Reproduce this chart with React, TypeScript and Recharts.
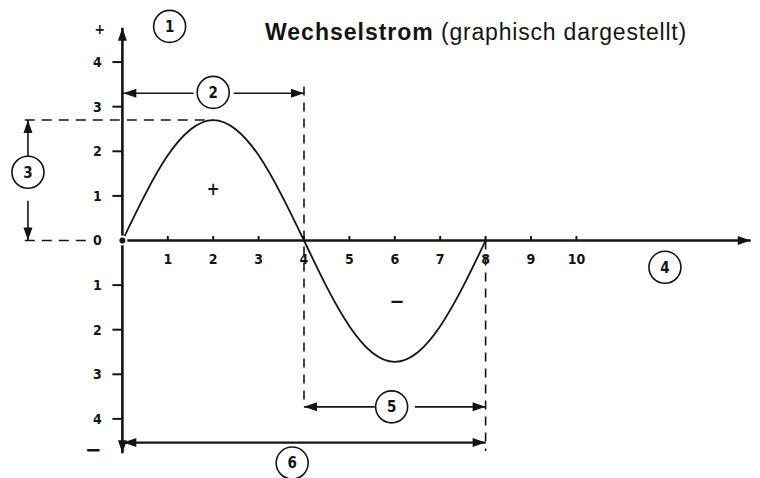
import React from 'react';
import { LineChart, Line, XAxis, YAxis, ReferenceLine, ReferenceDot } from 'recharts';

// Phase (x) and current (y)
const phase = [0, 0.5, 1, 1.5, 2, 2.5, 3, 3.5, 4, 4.5, 5, 5.5, 6, 6.5, 7, 7.5, 8];
const current = [0, 1.03, 1.91, 2.49, 2.7, 2.49, 1.91, 1.03, 0, -1.04, -1.92, -2.51, -2.72, -2.51, -1.92, -1.04, 0];

const xTicks = [1, 2, 3, 4, 5, 6, 7, 8, 9, 10];
const yTicks = [4, 3, 2, 1, -1, -2, -3, -4];

const peak = 2.7;
const halfPeriod = 4;
const period = 8;

// circled numbers: [label, x, y]
const markers: [string, number, number][] = [
  ['1', 1.04, 4.8],
  ['2', 2.0, 3.32],
  ['3', -2.08, 1.53],
  ['4', 11.95, -0.6],
  ['5', 5.93, -3.73],
  ['6', 3.74, -4.99],
];

const data = phase.map((t, i) => ({ t, v: current[i] }));

const ink = '#141414';
const tickFont = { fontFamily: '"DejaVu Sans Condensed", "DejaVu Sans", sans-serif', fontWeight: 700 };

const ArrowLine = (props: any) => {
  const { x1, y1, x2, y2, heads = 'end', width = 2, gap } = props;
  const dx = x2 - x1;
  const dy = y2 - y1;
  const len = Math.sqrt(dx * dx + dy * dy) || 1;
  const ux = dx / len;
  const uy = dy / len;
  const head = (x: number, y: number, dirx: number, diry: number) => {
    const L = 13;
    const W = 4.5;
    const bx = x - dirx * L;
    const by = y - diry * L;
    return (
      <polygon
        points={`${x},${y} ${bx - diry * W},${by + dirx * W} ${bx + diry * W},${by - dirx * W}`}
        fill={ink}
      />
    );
  };
  let lines;
  if (gap) {
    const mx = (x1 + x2) / 2 + (gap.shift || 0) * ux;
    const my = (y1 + y2) / 2 + (gap.shift || 0) * uy;
    lines = (
      <>
        <line x1={x1} y1={y1} x2={mx - ux * gap.size} y2={my - uy * gap.size} stroke={ink} strokeWidth={width} />
        <line x1={mx + ux * gap.size} y1={my + uy * gap.size} x2={x2} y2={y2} stroke={ink} strokeWidth={width} />
      </>
    );
  } else {
    lines = <line x1={x1} y1={y1} x2={x2} y2={y2} stroke={ink} strokeWidth={width} />;
  }
  return (
    <g>
      {lines}
      {(heads === 'end' || heads === 'both') && head(x2, y2, ux, uy)}
      {(heads === 'start' || heads === 'both') && head(x1, y1, -ux, -uy)}
    </g>
  );
};

export default function App() {
  return (
    <div style={{ position: 'absolute', left: 0, top: 0, width: 760, height: 478, background: '#fff' }}>
      <div
        style={{
          position: 'absolute',
          left: 265,
          top: 19,
          fontFamily: '"Liberation Sans", Arial, sans-serif',
          fontSize: 23,
          color: ink,
          whiteSpace: 'nowrap',
          letterSpacing: 0.8,
        }}
      >
        <span style={{ fontWeight: 700, letterSpacing: 1 }}>Wechselstrom</span> (graphisch dargestellt)
      </div>
      <LineChart width={760} height={478} data={data} margin={{ top: 0, right: 0, bottom: 0, left: 0 }}>
        <XAxis type="number" dataKey="t" domain={[-2.696, 14.044]} hide allowDataOverflow />
        <YAxis type="number" domain={[-5.325, 5.392]} hide allowDataOverflow />

        {/* dashed guides */}
        <ReferenceLine segment={[{ x: -2.15, y: peak }, { x: 2, y: peak }]} stroke={ink} strokeWidth={1.6} strokeDasharray="10 7" />
        <ReferenceLine segment={[{ x: -2.15, y: 0 }, { x: -0.7, y: 0 }]} stroke={ink} strokeWidth={1.6} strokeDasharray="10 7" />
        <ReferenceLine segment={[{ x: halfPeriod, y: 3.45 }, { x: halfPeriod, y: -3.73 }]} stroke={ink} strokeWidth={1.6} strokeDasharray="9 7" />
        <ReferenceLine segment={[{ x: period, y: 0 }, { x: period, y: -4.72 }]} stroke={ink} strokeWidth={1.6} strokeDasharray="9 7" />

        {/* axes */}
        <ReferenceLine segment={[{ x: 0, y: -4.77 }, { x: 0, y: 4.77 }]} shape={(p: any) => <ArrowLine {...p} heads="both" width={2.6} />} />
        <ReferenceLine segment={[{ x: 0, y: 0 }, { x: 13.84, y: 0 }]} shape={(p: any) => <ArrowLine {...p} heads="end" width={2.6} />} />

        {/* ticks */}
        {xTicks.map((t) => (
          <ReferenceLine key={'xt' + t} segment={[{ x: t, y: -0.02 }, { x: t, y: 0.1 }]} stroke={ink} strokeWidth={2} />
        ))}
        {yTicks.map((v) => (
          <ReferenceLine key={'yt' + v} segment={[{ x: -0.22, y: v }, { x: 0, y: v }]} stroke={ink} strokeWidth={2} />
        ))}
        {xTicks.map((t) => (
          <ReferenceDot
            key={'xl' + t}
            x={t}
            y={-0.41}
            r={1}
            fill="none"
            stroke="none"
            label={{ value: String(t), position: 'center', fill: ink, fontSize: 14, ...tickFont }}
          />
        ))}
        {[0, ...yTicks].map((v) => (
          <ReferenceDot
            key={'yl' + v}
            x={-0.55}
            y={v}
            r={1}
            fill="none"
            stroke="none"
            label={{ value: String(Math.abs(v)), position: 'center', fill: ink, fontSize: 14, ...tickFont }}
          />
        ))}

        {/* dimension arrows */}
        <ReferenceLine segment={[{ x: 0.02, y: 3.3 }, { x: halfPeriod, y: 3.3 }]} shape={(p: any) => <ArrowLine {...p} heads="both" width={1.6} gap={{ size: 20 }} />} />
        <ReferenceLine segment={[{ x: -2.08, y: peak }, { x: -2.08, y: 0 }]} shape={(p: any) => <ArrowLine {...p} heads="both" width={1.6} gap={{ size: 20, shift: 0.5 }} />} />
        <ReferenceLine segment={[{ x: halfPeriod, y: -3.73 }, { x: period, y: -3.73 }]} shape={(p: any) => <ArrowLine {...p} heads="both" width={1.6} gap={{ size: 20 }} />} />
        <ReferenceLine segment={[{ x: 0.02, y: -4.53 }, { x: period, y: -4.53 }]} shape={(p: any) => <ArrowLine {...p} heads="both" width={2.2} />} />

        <Line type="natural" dataKey="v" stroke={ink} strokeWidth={1.8} dot={false} isAnimationActive={false} />

        {/* signs */}
        <ReferenceDot x={-0.5} y={4.73} r={1} fill="none" stroke="none" label={{ value: '+', position: 'center', fill: ink, fontSize: 14, ...tickFont }} />
        <ReferenceDot x={-0.64} y={-4.68} r={1} fill="none" stroke="none" label={{ value: '−', position: 'center', fill: ink, fontSize: 22, ...tickFont }} />
        <ReferenceDot x={2} y={1.15} r={1} fill="none" stroke="none" label={{ value: '+', position: 'center', fill: ink, fontSize: 17, ...tickFont }} />
        <ReferenceDot x={6.05} y={-1.36} r={1} fill="none" stroke="none" label={{ value: '−', position: 'center', fill: ink, fontSize: 20, ...tickFont }} />

        {/* circled numbers */}
        {markers.map(([label, x, y]) => (
          <ReferenceDot
            key={'m' + label}
            x={x}
            y={y}
            r={16}
            fill="#fff"
            stroke={ink}
            strokeWidth={1.6}
            label={{ value: label, position: 'center', fill: ink, fontSize: 15, ...tickFont }}
          />
        ))}
      </LineChart>
    </div>
  );
}
